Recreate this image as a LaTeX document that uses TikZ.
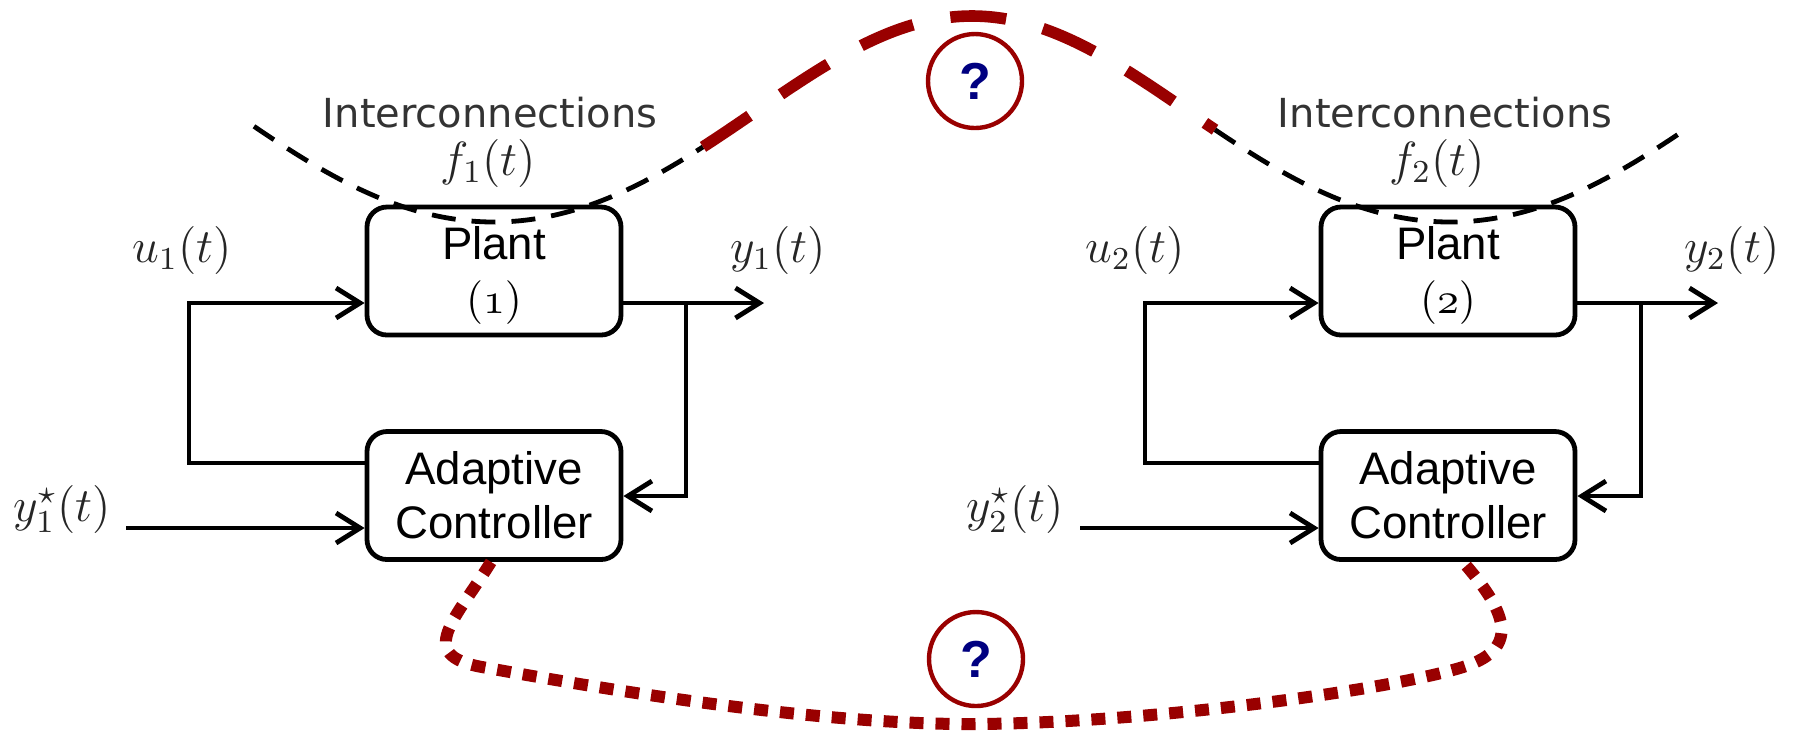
\documentclass[tikz,border=0pt]{standalone}
\usepackage[no-math]{fontspec}
\newfontfamily\arialf{Liberation Sans}
\newfontfamily\dejavuf{DejaVu Sans}
\usetikzlibrary{arrows.meta}
\definecolor{dred}{RGB}{153,0,0}
\definecolor{qblue}{RGB}{0,0,128}
\begin{document}
\begin{tikzpicture}[x=0.25pt, y=-0.25pt,
  blk/.style={draw, line width=1.2pt, rounded corners=5pt, minimum width=63.5pt, minimum height=32pt, align=center, font=\arialf\fontsize{11.4}{13.5}\selectfont, inner sep=0pt},
  arr/.style={line width=1.2pt, -{Straight Barb[length=6pt,width=7.5pt]}},
  lab/.style={font=\fontsize{11.5}{13}\selectfont, text=black!85, inner sep=0pt},
  ic/.style={font=\dejavuf\fontsize{10}{12}\selectfont, text=black!80, inner sep=0pt},
  bdash/.style={line width=1.2pt, dash pattern=on 6pt off 4pt},
  rdash/.style={draw=dred, line width=2.9pt, dash pattern=on 14pt off 9.5pt},
  rdot/.style={draw=dred, line width=3pt, dash pattern=on 3.5pt off 3pt},
  qc/.style={circle, draw=dred, line width=1.1pt, minimum size=23.5pt, inner sep=0pt, font=\arialf\bfseries\fontsize{13}{15}\selectfont, text=qblue}
]
\useasboundingbox (0,0) rectangle (1797,733);

% ---- system 1 ----
\node[blk] (P1) at (494,271) {\rule{0pt}{10.5pt}Plant\\$(\mathnormal{1})$};
\node[blk] (A1) at (494,495.5) {Adaptive\\Controller};
\node[lab] (u1) at (182,250) {$u_1(t)$};
\node[lab] (y1) at (778,250) {$y_1(t)$};
\node[lab] (ys1) at (62,509) {$y_1^\star(t)$};
\node[lab] (f1) at (488,163) {$f_1(t)$};
\node[ic] (ic1) at (490,113) {Interconnections};

\coordinate (k1a) at (189,463);
\coordinate (k1b) at (189,303);
\coordinate (o1) at (764,303);
\coordinate (j1a) at (686,303);
\coordinate (j1b) at (686,496);
\coordinate (r1) at (126,528);
\draw[arr] (A1.west |- k1a) -- (k1a) -- (k1b) -- (P1.west |- k1b);
\draw[arr] (P1.east |- o1) -- (o1);
\draw[arr] (j1a) -- (j1b) -- (A1.east |- j1b);
\draw[arr] (r1) -- (A1.west |- r1);

% ---- system 2 ----
\node[blk] (P2) at (1448,271) {\rule{0pt}{10.5pt}Plant\\$(\mathnormal{2})$};
\node[blk] (A2) at (1448,495.5) {Adaptive\\Controller};
\node[lab] (u2) at (1135,250) {$u_2(t)$};
\node[lab] (y2) at (1732,250) {$y_2(t)$};
\node[lab] (ys2) at (1015,509) {$y_2^\star(t)$};
\node[lab] (f2) at (1437,163) {$f_2(t)$};
\node[ic] (ic2) at (1445,113) {Interconnections};

\coordinate (k2a) at (1145,463);
\coordinate (k2b) at (1145,303);
\coordinate (o2) at (1718,303);
\coordinate (j2a) at (1641,303);
\coordinate (j2b) at (1641,496);
\coordinate (r2) at (1080,528);
\draw[arr] (A2.west |- k2a) -- (k2a) -- (k2b) -- (P2.west |- k2b);
\draw[arr] (P2.east |- o2) -- (o2);
\draw[arr] (j2a) -- (j2b) -- (A2.east |- j2b);
\draw[arr] (r2) -- (A2.west |- r2);

% ---- interconnection curves ----
\draw[bdash] plot[domain=254:703, samples=80, smooth] (\x, {123+103*cos(0.376569*(\x-494))-4*cos(0.753138*(\x-494))});
\draw[rdash] plot[domain=703:1215, samples=80, smooth] (\x, {123+103*cos(0.376569*(\x-494))-4*cos(0.753138*(\x-494))});
\draw[bdash] plot[domain=1215:1690, samples=80, smooth] (\x, {123+103*cos(0.376569*(\x-494))-4*cos(0.753138*(\x-494))});

\draw[rdot] ([xshift=-0.75pt]A1.south) .. controls (455,620) and (415,655) .. (482,667)
  .. controls (560,681) and (800,725) .. (975,724)
  .. controls (1150,723) and (1390,690) .. (1463,667)
  .. controls (1523,648) and (1505,610) .. ([xshift=3.75pt]A2.south);

\node[qc] (q1) at (975,81) {?};
\node[qc] (q2) at (976,659) {?};
\end{tikzpicture}
\end{document}
